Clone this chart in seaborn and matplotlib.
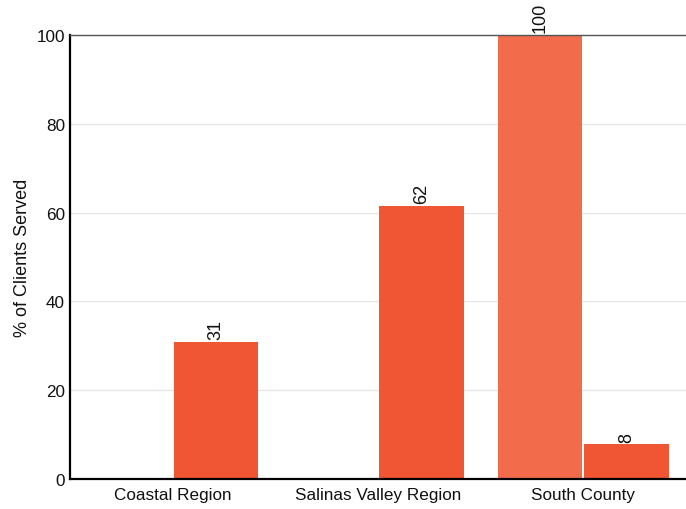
import numpy as np
import pandas as pd
import matplotlib
matplotlib.use("Agg")
import matplotlib.pyplot as plt
import seaborn as sns

categories = ["Coastal Region", "Salinas Valley Region", "South County"]
series_names = ["Series 1", "Series 2"]
series1 = [np.nan, np.nan, 100]
series2 = [30.8, 61.5, 7.8]
colors = ["#f26c4c", "#f05633"]
yticks = [0, 20, 40, 60, 80, 100]

df = pd.DataFrame({
    "Region": categories * 2,
    "Series": [series_names[0]] * 3 + [series_names[1]] * 3,
    "Value": series1 + series2,
})

sns.set_theme(style="white")
plt.rcParams["font.family"] = ["Liberation Sans", "DejaVu Sans"]

fig = plt.figure(figsize=(6.86, 5.10), dpi=100)
ax = fig.add_axes([0.102, 0.059, 0.898, 0.870])

sns.barplot(data=df, x="Region", y="Value", hue="Series", order=categories,
            hue_order=series_names, palette=colors, width=0.845, gap=0.025,
            saturation=1, legend=False, linewidth=0, ax=ax)

for c in ax.containers:
    ax.bar_label(c, fmt="%.0f", rotation=90, padding=2, fontsize=13, color="#111111")

ax.set_ylim(0, 100)
ax.set_xlim(-0.5, 2.5)
ax.set_yticks(yticks)
ax.yaxis.grid(True, color="#e6e6e6", linewidth=1)
ax.set_axisbelow(True)
ax.set_xlabel("")
ax.set_ylabel("% of Clients Served", fontsize=13, color="#111111")
ax.tick_params(axis="both", labelsize=12.3, colors="#111111", length=0)
ax.tick_params(axis="x", pad=6)
for s in ["left", "bottom"]:
    ax.spines[s].set_color("#000000")
    ax.spines[s].set_linewidth(1.6)
ax.spines["top"].set_color("#555555")
ax.spines["top"].set_linewidth(1.0)
ax.spines["right"].set_visible(False)

fig.savefig("out.png", dpi=100)
